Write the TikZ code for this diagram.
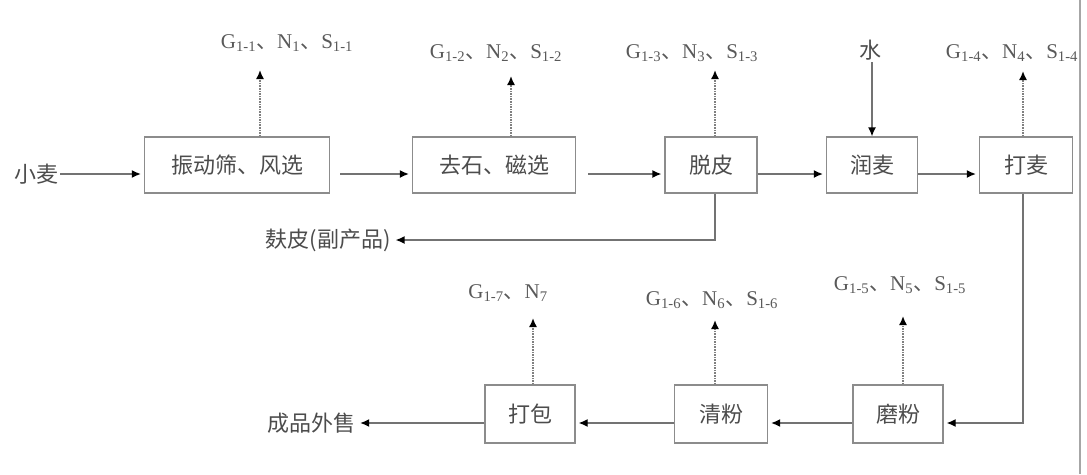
\documentclass[tikz,border=0pt]{standalone}
\usepackage{fontspec}
\setmainfont{Liberation Serif}
\newfontfamily\cjk{Noto Sans CJK SC}
\usetikzlibrary{arrows.meta}
\newcommand{\dun}{{\cjk 、}}

\begin{document}
\begin{tikzpicture}[x=1pt,y=-1pt,
  proc/.style={rectangle, draw=black!45, line width=1.3pt, minimum height=56pt, text=black!70, font=\fontsize{22}{26}\selectfont\cjk, inner sep=0pt},
  txt/.style={text=black!70, font=\fontsize{22}{26}\selectfont\cjk, inner sep=2pt},
  lbl/.style={text=black!65, font=\fontsize{21}{25}\selectfont, inner sep=2pt},
  flow/.style={draw=black!55, line width=1.3pt, -{Latex[length=9pt,width=8pt,color=black,fill=black]}, shorten >=3pt},
  emit/.style={draw=black!50, line width=1.6pt, densely dotted, -{Latex[length=9pt,width=8pt,color=black,fill=black,sep=0pt]}}]

\useasboundingbox (0,0) rectangle (1087,474);

% Nodes
\node (xiaomai) [txt] at (36,174) {小麦};
\node (shai) [proc, minimum width=185pt] at (237,165) {振动筛、风选};
\node (qushi) [proc, minimum width=163pt] at (494,165) {去石、磁选};
\node (tuopi) [proc, minimum width=92pt] at (711,165) {脱皮};
\node (runmai) [proc, minimum width=91pt] at (872,165) {润麦};
\node (damai) [proc, minimum width=93pt] at (1026,165) {打麦};
\node (mofen) [proc, minimum width=90pt, minimum height=58pt] at (898,414) {磨粉};
\node (qingfen) [proc, minimum width=93pt, minimum height=58pt] at (721,414) {清粉};
\node (dabao) [proc, minimum width=90pt, minimum height=58pt] at (530,414) {打包};
\node (chengpin) [txt] at (311,423) {成品外售};
\node (fupi) [txt] at (328,240) {麸皮(副产品)};
\node (shui) [txt] at (870,50) {水};

% Labels
\node (g1) [lbl] at (287,43) {G\textsubscript{1-1}\dun N\textsubscript{1}\dun S\textsubscript{1-1}};
\node (g2) [lbl] at (496,53) {G\textsubscript{1-2}\dun N\textsubscript{2}\dun S\textsubscript{1-2}};
\node (g3) [lbl] at (692,53) {G\textsubscript{1-3}\dun N\textsubscript{3}\dun S\textsubscript{1-3}};
\node (g4) [lbl] at (1012,53) {G\textsubscript{1-4}\dun N\textsubscript{4}\dun S\textsubscript{1-4}};
\node (g5) [lbl] at (900,285) {G\textsubscript{1-5}\dun N\textsubscript{5}\dun S\textsubscript{1-5}};
\node (g6) [lbl] at (712,300) {G\textsubscript{1-6}\dun N\textsubscript{6}\dun S\textsubscript{1-6}};
\node (g7) [lbl] at (508,293) {G\textsubscript{1-7}\dun N\textsubscript{7}};

% Arrows
\draw [flow] (xiaomai.east) -- ([yshift=-9pt]shai.west);
\draw [flow, shorten <=10pt] ([yshift=-9pt]shai.east) -- ([yshift=-9pt]qushi.west);
\draw [flow, shorten <=12pt] ([yshift=-9pt]qushi.east) -- ([yshift=-9pt]tuopi.west);
\draw [flow] ([yshift=-9pt]tuopi.east) -- ([yshift=-9pt]runmai.west);
\draw [flow] ([yshift=-9pt]runmai.east) -- ([yshift=-9pt]damai.west);
\draw [flow, shorten >=0pt] (shui.south -| runmai.north) -- (runmai.north);
\draw [flow] ([xshift=4pt]tuopi.south) |- (fupi.east);
\draw [flow] ([xshift=-3pt]damai.south) |- ([yshift=-9pt]mofen.east);
\draw [flow] ([yshift=-9pt]mofen.west) -- ([yshift=-9pt]qingfen.east);
\draw [flow] ([yshift=-9pt]qingfen.west) -- ([yshift=-9pt]dabao.east);
\draw [flow] ([yshift=-9pt]dabao.west) -- (chengpin.east);

% Emissions
\coordinate (e1) at (260,70);
\coordinate (e2) at (511,76);
\coordinate (e3) at (715,70);
\coordinate (e4) at (1023,71);
\coordinate (e5) at (903,316);
\coordinate (e6) at (715,320);
\coordinate (e7) at (533,318);
\draw [emit] (shai.north -| e1) -- (e1);
\draw [emit] (qushi.north -| e2) -- (e2);
\draw [emit] (tuopi.north -| e3) -- (e3);
\draw [emit] (damai.north -| e4) -- (e4);
\draw [emit] (mofen.north -| e5) -- (e5);
\draw [emit] (qingfen.north -| e6) -- (e6);
\draw [emit] (dabao.north -| e7) -- (e7);

% Edge line
\draw [black!35, line width=1.5pt] (1080,0) -- (1080,474);

\end{tikzpicture}
\end{document}
